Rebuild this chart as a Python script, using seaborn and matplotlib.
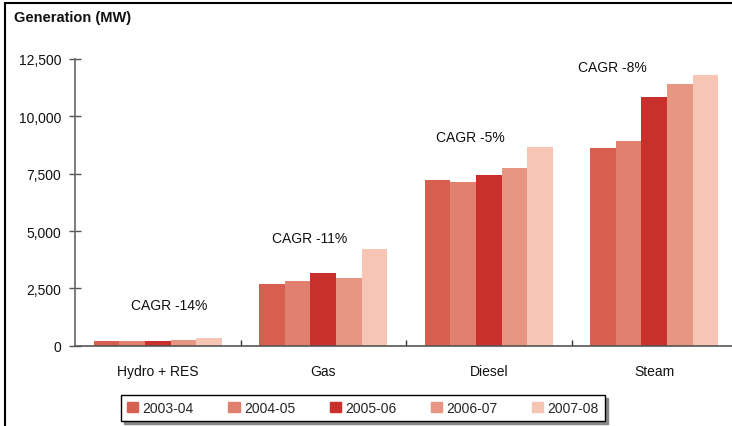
import matplotlib
matplotlib.use("Agg")
import matplotlib.pyplot as plt
import seaborn as sns
import pandas as pd
from matplotlib.lines import Line2D
from matplotlib.ticker import FuncFormatter, FixedLocator

# --- data ---
categories = ["Hydro + RES", "Gas", "Diesel", "Steam"]
years = ["2003-04", "2004-05", "2005-06", "2006-07", "2007-08"]
hydro = [200, 200, 200, 240, 320]
gas = [2710, 2840, 3190, 2930, 4200]
diesel = [7210, 7120, 7430, 7740, 8650]
steam = [8610, 8920, 10840, 11410, 11800]
cagr_labels = ["CAGR -14%", "CAGR -11%", "CAGR -5%", "CAGR -8%"]
cagr_x = [0.07, 0.92, 1.89, 2.75]
cagr_y = [1780, 4700, 9100, 12150]
colors = ["#D65F4F", "#E2806F", "#C9302C", "#E79684", "#F6C5B3"]

rows = []
for cat, vals in zip(categories, [hydro, gas, diesel, steam]):
    for yr, v in zip(years, vals):
        rows.append({"category": cat, "year": yr, "value": v})
df = pd.DataFrame(rows)

sns.set_theme(style="white")
plt.rcParams['font.family'] = ['Liberation Sans', 'DejaVu Sans']

fig = plt.figure(figsize=(7.32, 4.27), dpi=100)
# axes runs to the right edge of the picture
ax = fig.add_axes([75 / 732, 1 - 346.7 / 427, 1 - 75 / 732, (346.7 - 60) / 427])

sns.barplot(data=df, x="category", y="value", hue="year", palette=colors,
            width=0.775, gap=0, saturation=1, edgecolor="none", linewidth=0,
            ax=ax, legend=False)

ax.set_xlim(-0.5, -0.5 + (732 - 75) / 165.5)
ax.set_ylim(0, 12500)
ax.set_xlabel("")
ax.set_ylabel("")
ax.set_yticks([0, 2500, 5000, 7500, 10000, 12500])
ax.yaxis.set_major_formatter(FuncFormatter(lambda v, p: f"{int(v):,}"))
ax.tick_params(axis="y", direction="inout", length=8, width=1, color="#555555",
               labelsize=10, pad=6, left=True, right=False, labelcolor="#111111")
ax.tick_params(axis="x", which="major", length=0, labelsize=10, pad=13, labelcolor="#111111")
ax.xaxis.set_minor_locator(FixedLocator([0.5, 1.5, 2.5]))
ax.tick_params(axis="x", which="minor", direction="in", length=4, width=1,
               color="#333333", bottom=True, top=False)

for s in ["top", "right"]:
    ax.spines[s].set_visible(False)
ax.spines["left"].set_color("#666666")
ax.spines["bottom"].set_color("#555555")
ax.spines["left"].set_linewidth(1.2)
ax.spines["bottom"].set_linewidth(1.2)

for lbl, x, y in zip(cagr_labels, cagr_x, cagr_y):
    ax.text(x, y, lbl, ha="center", va="center", fontsize=10, color="#111111")

fig.text(14 / 732, 1 - 18 / 427, "Generation (MW)", fontsize=10.5, fontweight="bold",
         ha="left", va="center", color="#111111")

# border of the original frame (left and top only), one open polyline
fig.add_artist(Line2D([5 / 732, 5 / 732, 1.05], [-0.05, 1 - 4 / 427, 1 - 4 / 427],
                      color="black", lw=1.5, solid_joinstyle="miter"))

handles = [plt.Rectangle((0, 0), 1, 1, color=c) for c in colors]
leg = fig.legend(handles, years, loc="center", ncol=5,
                 bbox_to_anchor=(363 / 732, 1 - 409 / 427),
                 frameon=True, fancybox=False, shadow={"color": "#888888", "alpha": 1},
                 fontsize=10, handlelength=0.8, handleheight=0.8, handletextpad=0.3,
                 columnspacing=2.5, borderpad=0.45)
leg.get_frame().set_edgecolor("black")
leg.get_frame().set_linewidth(1)

fig.savefig("out.png", dpi=100)
